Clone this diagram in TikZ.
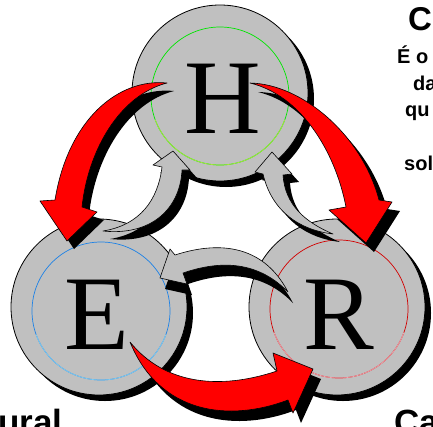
\documentclass[tikz,border=0pt]{standalone}
\usepackage{fontspec}
\setmainfont{Liberation Sans}
\newfontfamily\letterfont{Liberation Serif}
\definecolor{discgray}{RGB}{192,192,192}
\definecolor{arrowred}{RGB}{255,0,0}
\definecolor{ringgreen}{RGB}{0,230,0}
\definecolor{ringgreenlt}{RGB}{170,230,60}
\definecolor{ringblue}{RGB}{30,130,230}
\definecolor{ringbluelt}{RGB}{130,205,240}
\definecolor{ringred}{RGB}{210,0,0}
\definecolor{ringredlt}{RGB}{240,165,175}
% a filled shape with a black drop shadow below and to the right
\newcommand\shadowedshape[3]{%
  \fill[black, shift={#2}] #3;
  \filldraw[#1] #3;}
\begin{document}
\begin{tikzpicture}[x=1pt, y=-1pt,
  disc/.style={circle, minimum size=176pt, inner sep=0pt, fill=discgray, draw=black, line width=0.8pt},
  discshadow/.style={circle, minimum size=176pt, inner sep=0pt, fill=black},
  letter/.style={font=\letterfont\fontsize{106}{106}\selectfont, inner sep=0pt},
  ring/.style={line width=0.7pt},
  redarrow/.style={fill=arrowred, draw=black, line width=0.6pt, line join=round},
  grayarrow/.style={fill=discgray, draw=black, line width=0.6pt, line join=round},
  caption/.style={font=\bfseries\fontsize{20}{24}\selectfont, anchor=base west, inner sep=0pt},
  title/.style={font=\bfseries\fontsize{33}{36}\selectfont, anchor=base west, inner sep=0pt},
  footer/.style={font=\bfseries\fontsize{35}{38}\selectfont, anchor=base west, inner sep=0pt}]
\useasboundingbox (0,0) rectangle (433,426);
\clip (0,0) rectangle (433,426);

% discs with their shadows
\node[discshadow] (Hs) at (226,99) {};
\node[discshadow] (Es) at (105,313) {};
\node[discshadow] (Rs) at (343,313) {};
\node[disc] (H) at (220,93) {};
\node[disc] (E) at (99,307) {};
\node[disc] (R) at (337,307) {};

% thin coloured rings inside the discs, lighter towards the bottom
\coordinate (Hr) at (220,96);
\coordinate (Er) at (101,311);
\coordinate (Rr) at (339,309);
\draw[ring, ringgreen] (Hr) circle[radius=69];
\draw[ring, ringgreenlt] (Hr) ++(20:69) arc[start angle=20, end angle=160, radius=69];
\draw[ring, ringblue] (Er) circle[radius=69];
\draw[ring, ringbluelt] (Er) ++(20:69) arc[start angle=20, end angle=160, radius=69];
\draw[ring, ringred] (Rr) circle[radius=69];
\draw[ring, ringredlt] (Rr) ++(20:69) arc[start angle=20, end angle=160, radius=69];

% letters
\node[letter] (Hl) at (222.5,99) {H};
\node[letter] (El) at (96.5,315) {E};
\node[letter] (Rl) at (339,315) {R};

% gray curved arrows
\shadowedshape{grayarrow}{(7,8)}{(103,231) .. controls (150,236) and (180,210) .. (182,170) -- (190,170) -- (173,151) -- (153,165) -- (162,167) .. controls (158,200) and (140,225) .. (103,231) -- cycle}
\shadowedshape{grayarrow}{(7,8)}{(333,234) .. controls (305,222) and (285,205) .. (283,175) -- (292,174) -- (272,152) -- (255,172) -- (263,174) .. controls (272,212) and (300,230) .. (333,234) -- cycle}
\shadowedshape{grayarrow}{(5,11)}{(288,292) .. controls (262,242) and (215,242) .. (175,255) -- (170,249) -- (160,278) -- (187,284) -- (183,273) .. controls (215,262) and (255,258) .. (288,292) -- cycle}

% red curved arrows
\shadowedshape{redarrow}{(7,8)}{(167,83) .. controls (118,78) and (68,120) .. (55,200) -- (40,201) -- (67,241) -- (97,212) -- (82,207) .. controls (88,150) and (120,95) .. (167,83) -- cycle}
\shadowedshape{redarrow}{(8,9)}{(250,83) .. controls (302,84) and (362,135) .. (379,200) -- (392,202) -- (366,243) -- (329,210) -- (346,207) .. controls (335,150) and (300,95) .. (250,83) -- cycle}
\shadowedshape{redarrow}{(8,10)}{(130,342) .. controls (165,385) and (220,390) .. (277,371) -- (273,353) -- (313,369) -- (293,413) -- (288,400) .. controls (230,422) and (160,415) .. (130,342) -- cycle}

% text along the edges
\node[title] (t1) at (408,30) {C};
\node[caption] (t2) at (397,63) {É o};
\node[caption] (t3) at (413,90) {da};
\node[caption] (t4) at (405,116) {qu};
\node[caption] (t5) at (404,170) {sol};
\node[footer] (t6) at (-2,434) {ural};
\node[footer] (t7) at (394,434) {Ca};
\end{tikzpicture}
\end{document}
